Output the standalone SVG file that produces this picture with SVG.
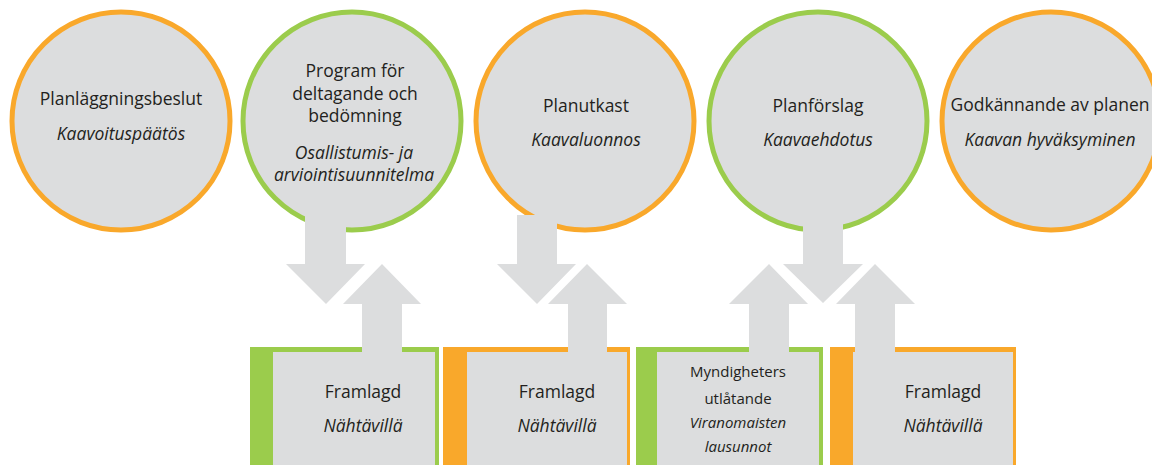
<svg xmlns="http://www.w3.org/2000/svg" width="1152" height="465" viewBox="0 0 1152 465">
<style>
.c{fill:#dcddde;stroke-width:5}
.o{stroke:#f9a82b}
.g{stroke:#9bcc4c}
.of{fill:#f9a82b}
.gf{fill:#9bcc4c}
.in{fill:#dcddde}
.ar{fill:#dcddde}
text{font-family:"Open Sans","Liberation Sans",sans-serif;font-size:17.5px;fill:#231f20;text-anchor:middle}
.i{font-style:italic}
.s{font-size:15px}
</style>
<rect width="1152" height="465" fill="#ffffff"/>
<g id="node-planlaggningsbeslut">
<circle class="c o" cx="121" cy="121" r="109"/>
<text x="121" y="105">Planläggningsbeslut</text>
<text class="i" x="121" y="140">Kaavoituspäätös</text>
</g>
<g id="node-program">
<circle class="c g" cx="352" cy="121" r="109"/>
<text x="355" y="77">Program för</text>
<text x="355" y="100">deltagande och</text>
<text x="355" y="122">bedömning</text>
<text class="i" x="354" y="159">Osallistumis- ja</text>
<text class="i" x="354" y="181">arviointisuunnitelma</text>
</g>
<g id="node-planutkast">
<circle class="c o" cx="585" cy="121" r="109"/>
<text x="586" y="112">Planutkast</text>
<text class="i" x="586" y="146">Kaavaluonnos</text>
</g>
<g id="node-planforslag">
<circle class="c g" cx="818" cy="121" r="109"/>
<text x="818" y="112">Planförslag</text>
<text class="i" x="818" y="146">Kaavaehdotus</text>
</g>
<g id="node-godkannande">
<circle class="c o" cx="1051" cy="121" r="109"/>
<text x="1050" y="111">Godkännande av planen</text>
<text class="i" x="1050" y="146">Kaavan hyväksyminen</text>
</g>
<g id="node-framlagd-1">
<rect class="gf" x="250" y="347" width="189" height="118"/>
<rect class="in" x="273" y="352" width="162" height="113"/>
<text x="363" y="398">Framlagd</text>
<text class="i" x="363" y="432">Nähtävillä</text>
</g>
<g id="node-framlagd-2">
<rect class="of" x="443" y="347" width="187" height="118"/>
<rect class="in" x="467" y="352" width="160" height="113"/>
<text x="557" y="398">Framlagd</text>
<text class="i" x="557" y="432">Nähtävillä</text>
</g>
<g id="node-myndigheter">
<rect class="gf" x="636" y="347" width="187" height="118"/>
<rect class="in" x="657" y="352" width="162" height="113"/>
<text class="s" x="738" y="377">Myndigheters</text>
<text class="s" x="738" y="404">utlåtande</text>
<text class="s i" x="738" y="428">Viranomaisten</text>
<text class="s i" x="738" y="452">lausunnot</text>
</g>
<g id="node-framlagd-3">
<rect class="of" x="830" y="347" width="186" height="118"/>
<rect class="in" x="853" y="352" width="160" height="113"/>
<text x="943" y="398">Framlagd</text>
<text class="i" x="943" y="432">Nähtävillä</text>
</g>
<g id="connectors">
<path class="ar" d="M305 215 H346 V264 H365 L326 304 L286 264 H305 Z"/>
<path class="ar" d="M362 353 V304 H343 L382 264 L421 304 H402 V353 Z"/>
<path class="ar" d="M517 215 H557 V264 H576 L537 304 L497 264 H517 Z"/>
<path class="ar" d="M568 353 V304 H548 L587 264 L627 304 H607 V353 Z"/>
<path class="ar" d="M803 215 H843 V264 H863 L823 303 L783 264 H803 Z"/>
<path class="ar" d="M749 353 V304 H729 L769 264 L808 304 H789 V353 Z"/>
<path class="ar" d="M855 353 V304 H836 L875 264 L915 304 H895 V353 Z"/>
</g>
</svg>
